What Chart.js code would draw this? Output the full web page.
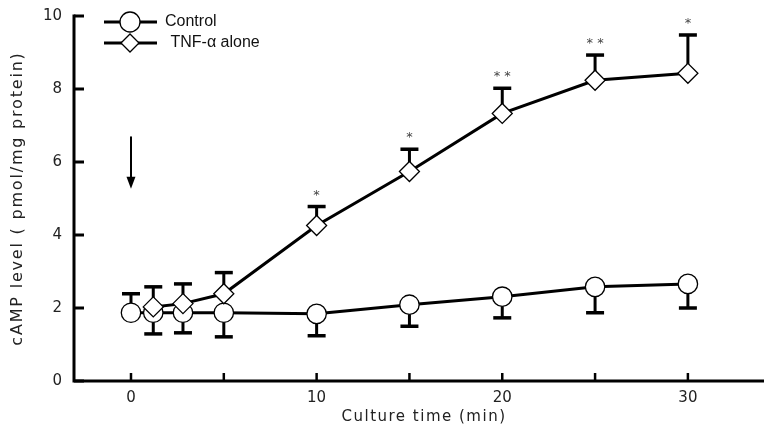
<!DOCTYPE html>
<html>
<head>
<meta charset="utf-8">
<script src="https://cdn.jsdelivr.net/npm/chart.js@4/dist/chart.umd.min.js"></script>
<style>
  html, body { margin: 0; padding: 0; background: #fff; }
  canvas { display: block; }
</style>
</head>
<body>
<canvas id="camp" width="764" height="427"></canvas>
<script>
// culture time (min) and cAMP level (pmol/mg protein)
const controlTimes = [0, 1.2, 2.8, 5, 10, 15, 20, 25, 30];
const controlValues = [1.87, 1.87, 1.87, 1.87, 1.84, 2.09, 2.31, 2.58, 2.66];
// signed SD: positive = bar drawn upward, negative = downward
const controlErrors = [0.52, -0.58, -0.55, -0.66, -0.6, -0.59, -0.58, -0.71, -0.66];

const tnfTimes = [1.2, 2.8, 5, 10, 15, 20, 25, 30];
const tnfValues = [2.03, 2.12, 2.39, 4.26, 5.74, 7.33, 8.24, 8.43];
const tnfErrors = [0.55, 0.54, 0.58, 0.52, 0.61, 0.69, 0.69, 1.05];
const tnfStars = ['', '', '', '*', '*', '* *', '* *', '*'];

const xTicks = [0, 5, 10, 15, 20, 25, 30];
const xLabelled = [0, 10, 20, 30];
const yTicks = [0, 2, 4, 6, 8, 10];

// TNF-α addition arrow
const arrowTime = 0;
const arrowFrom = 6.7;
const arrowTo = 5.27;

const toPoints = (xs, ys) => xs.map((t, i) => ({x: t, y: ys[i]}));

function marker(ctx, shape, px, py, r) {
    ctx.beginPath();
    if (shape === 'circle') {
        ctx.arc(px, py, r, 0, Math.PI * 2);
    } else {
        ctx.moveTo(px - r, py);
        ctx.lineTo(px, py - r);
        ctx.lineTo(px + r, py);
        ctx.lineTo(px, py + r);
        ctx.closePath();
    }
    ctx.fillStyle = '#fff';
    ctx.fill();
    ctx.lineWidth = 1.3;
    ctx.strokeStyle = '#000';
    ctx.stroke();
}

const extras = {
    id: 'extras',
    beforeDatasetsDraw(chart) {
        const {ctx, scales: {x, y}} = chart;
        ctx.save();
        ctx.strokeStyle = '#000';
        chart.data.datasets.forEach(ds => {
            ds.data.forEach((p, i) => {
                const px = x.getPixelForValue(p.x);
                const y0 = y.getPixelForValue(p.y);
                const y1 = y.getPixelForValue(p.y + ds.errors[i]);
                ctx.lineWidth = 3;
                ctx.beginPath();
                ctx.moveTo(px, y0);
                ctx.lineTo(px, y1);
                ctx.stroke();
                ctx.lineWidth = 3.5;
                ctx.beginPath();
                ctx.moveTo(px - 9, y1);
                ctx.lineTo(px + 9, y1);
                ctx.stroke();
            });
        });
        ctx.restore();
    },
    afterDraw(chart) {
        const {ctx, chartArea: a, scales: {x, y}} = chart;
        ctx.save();
        ctx.strokeStyle = '#000';
        ctx.fillStyle = '#000';

        // axes
        const y0 = y.getPixelForValue(0);
        ctx.lineWidth = 3;
        ctx.beginPath();
        ctx.moveTo(a.left, y.getPixelForValue(10) - 1.5);
        ctx.lineTo(a.left, y0 + 1.5);
        ctx.moveTo(a.left - 1.5, y0);
        ctx.lineTo(a.right, y0);
        ctx.stroke();

        // inward tick marks
        yTicks.forEach(v => {
            const py = y.getPixelForValue(v);
            ctx.beginPath();
            ctx.moveTo(a.left, py);
            ctx.lineTo(a.left + 10, py);
            ctx.stroke();
        });
        ctx.lineWidth = 2.5;
        xTicks.forEach(v => {
            const px = x.getPixelForValue(v);
            ctx.beginPath();
            ctx.moveTo(px, y0);
            ctx.lineTo(px, y0 - 8);
            ctx.stroke();
        });

        // arrow
        const ax = x.getPixelForValue(arrowTime);
        const ay1 = y.getPixelForValue(arrowFrom);
        const ay2 = y.getPixelForValue(arrowTo);
        ctx.lineWidth = 2;
        ctx.beginPath();
        ctx.moveTo(ax, ay1);
        ctx.lineTo(ax, ay2 - 10);
        ctx.stroke();
        ctx.beginPath();
        ctx.moveTo(ax - 4.5, ay2 - 12);
        ctx.lineTo(ax + 4.5, ay2 - 12);
        ctx.lineTo(ax, ay2);
        ctx.closePath();
        ctx.fill();

        // significance stars
        ctx.font = '13px "DejaVu Sans"';
        ctx.fillStyle = '#444';
        ctx.textAlign = 'center';
        ctx.textBaseline = 'alphabetic';
        tnfStars.forEach((s, i) => {
            if (!s) return;
            const px = x.getPixelForValue(tnfTimes[i]);
            const py = y.getPixelForValue(tnfValues[i] + tnfErrors[i]);
            ctx.fillText(s, px, py - 8);
        });

        // legend
        const rows = [
            {shape: 'circle', text: 'Control', ty: 22, tx: 165},
            {shape: 'diamond', text: ' TNF-\u03b1 alone', ty: 43, tx: 166}
        ];
        rows.forEach(r => {
            ctx.lineWidth = 3;
            ctx.strokeStyle = '#000';
            ctx.beginPath();
            ctx.moveTo(104, r.ty);
            ctx.lineTo(157, r.ty);
            ctx.stroke();
            marker(ctx, r.shape, 130, r.ty, r.shape === 'circle' ? 10 : 9);
            ctx.fillStyle = '#111';
            ctx.font = '16px "Liberation Sans", Arial, sans-serif';
            ctx.textAlign = 'left';
            ctx.textBaseline = 'middle';
            ctx.fillText(r.text, r.tx, r.ty);
        });

        // axis titles
        ctx.fillStyle = '#222';
        ctx.font = '15px "DejaVu Sans"';
        ctx.letterSpacing = '1.5px';
        ctx.textAlign = 'center';
        ctx.textBaseline = 'middle';
        ctx.fillText('Culture time (min)', 424, 417);
        ctx.translate(18, (a.top + a.bottom) / 2);
        ctx.rotate(-Math.PI / 2);
        ctx.font = '16px "DejaVu Sans"';
        ctx.letterSpacing = '1.8px';
        ctx.fillText('cAMP level ( pmol/mg protein)', 0, 0);
        ctx.restore();
    }
};

new Chart(document.getElementById('camp').getContext('2d'), {
    type: 'line',
    data: {
        datasets: [
            {
                label: 'TNF-\u03b1 alone',
                data: toPoints(tnfTimes, tnfValues),
                errors: tnfErrors,
                order: 0,
                borderColor: '#000',
                borderWidth: 3,
                pointStyle: 'rectRot',
                pointRadius: 10,
                pointBackgroundColor: '#fff',
                pointBorderColor: '#000',
                pointBorderWidth: 1.3,
                tension: 0
            },
            {
                label: 'Control',
                data: toPoints(controlTimes, controlValues),
                errors: controlErrors,
                order: 1,
                borderColor: '#000',
                borderWidth: 3,
                pointStyle: 'circle',
                pointRadius: 9.7,
                pointBackgroundColor: '#fff',
                pointBorderColor: '#000',
                pointBorderWidth: 1.3,
                tension: 0
            }
        ]
    },
    options: {
        responsive: false,
        animation: false,
        layout: {autoPadding: false, padding: {top: 16, right: 0, bottom: 0, left: 0}},
        plugins: {
            legend: {display: false},
            tooltip: {enabled: false}
        },
        scales: {
            x: {
                type: 'linear',
                min: -3.07,
                max: 34.1,
                grid: {display: false, drawTicks: false},
                border: {display: false},
                afterBuildTicks: s => { s.ticks = xTicks.map(v => ({value: v})); },
                afterFit: s => { s.height = 46; s.paddingLeft = 0; s.paddingRight = 0; },
                ticks: {
                    padding: 8,
                    color: '#222',
                    font: {family: 'DejaVu Sans', size: 15},
                    callback: v => xLabelled.includes(v) ? String(v) : ''
                }
            },
            y: {
                min: 0,
                max: 10,
                grid: {display: false, drawTicks: false},
                border: {display: false},
                afterBuildTicks: s => { s.ticks = yTicks.map(v => ({value: v})); },
                afterFit: s => { s.width = 74; s.paddingTop = 0; s.paddingBottom = 0; },
                ticks: {
                    padding: 12,
                    color: '#222',
                    font: {family: 'DejaVu Sans', size: 15}
                }
            }
        }
    },
    plugins: [extras]
});
</script>
</body>
</html>
